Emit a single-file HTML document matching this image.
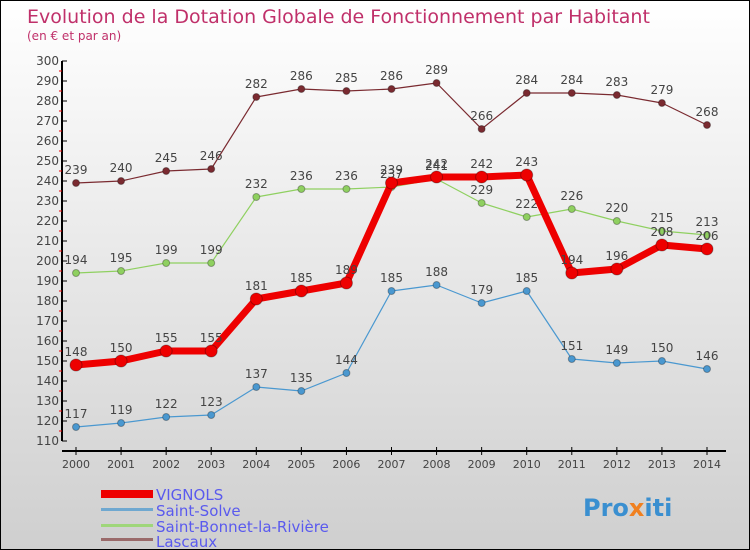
<!DOCTYPE html>
<html><head><meta charset="utf-8"><style>
body{margin:0}
#wrap{position:relative;width:748px;height:548px;border:1px solid #000;background:linear-gradient(#ffffff,#cfcfcf);font-family:"DejaVu Sans","Liberation Sans",sans-serif;overflow:hidden}
svg text{font-family:"DejaVu Sans","Liberation Sans",sans-serif}
</style></head><body>
<div id="wrap">
<svg id="chart" width="748" height="548">
<text x="26" y="22" font-size="19" fill="#c0306a">Evolution de la Dotation Globale de Fonctionnement par Habitant</text>
<text x="26" y="39" font-size="12" fill="#c0306a">(en € et par an)</text>
<g id="axes"></g><g id="series"></g>
<g>
<rect x="100" y="489" width="52" height="8" fill="#e00"/>
<text x="155" y="499" font-size="15" fill="#5a5aee">VIGNOLS</text>
<rect x="100" y="507" width="52" height="3" fill="#6fa8d0"/>
<text x="155" y="515" font-size="15" fill="#5a5aee">Saint-Solve</text>
<rect x="100" y="523" width="52" height="3" fill="#9fd67a"/>
<text x="155" y="531" font-size="15" fill="#5a5aee">Saint-Bonnet-la-Rivière</text>
<rect x="100" y="537" width="52" height="3" fill="#9a6a6a"/>
<text x="155" y="546" font-size="15" fill="#5a5aee">Lascaux</text>
</g>
<text x="582" y="515" font-size="24" font-weight="bold" fill="#3a8fd0">Pro<tspan fill="#f08020">x</tspan>iti</text>
</svg>
</div>
<script>
const years=[2000,2001,2002,2003,2004,2005,2006,2007,2008,2009,2010,2011,2012,2013,2014];
const yTicks=[110,120,130,140,150,160,170,180,190,200,210,220,230,240,250,260,270,280,290,300];
const vignols=[148,150,155,155,181,185,189,239,242,242,243,194,196,208,206];
const saintSolve=[117,119,122,123,137,135,144,185,188,179,185,151,149,150,146];
const saintBonnet=[194,195,199,199,232,236,236,237,241,229,222,226,220,215,213];
const lascaux=[239,240,245,246,282,286,285,286,289,266,284,284,283,279,268];
const NS="http://www.w3.org/2000/svg";
const xs=i=>75+i*(706-75)/14;
const ys=v=>60+(300-v)*2;
function mk(t,a,p){const e=document.createElementNS(NS,t);for(const k in a)e.setAttribute(k,a[k]);p.appendChild(e);return e;}
const ax=document.getElementById('axes');
const yl=mk('line',{x1:61,y1:60,x2:61,y2:440,stroke:'#000','stroke-width':2},ax);


const xl=mk('line',{x1:61,y1:450,x2:725,y2:450,stroke:'#000','stroke-width':2},ax);


yTicks.forEach(v=>{
 mk('line',{x1:61,y1:ys(v),x2:66,y2:ys(v),stroke:'#000'},ax);
 if(v<300)mk('line',{x1:58,y1:ys(v+5),x2:61,y2:ys(v+5),stroke:'#e00'},ax);
 const t=mk('text',{x:58,y:ys(v)+4,'font-size':12,'text-anchor':'end',fill:'#444'},ax);
 t.textContent=v;
 
 
});
years.forEach((y,i)=>{
 mk('line',{x1:xs(i),y1:446,x2:xs(i),y2:454,stroke:'#000'},ax);
 const t=mk('text',{x:xs(i),y:467,'font-size':11,'text-anchor':'middle',fill:'#444'},ax);
 t.textContent=y;
 
 
});
const sg=document.getElementById('series');
function series(data,color,w,r,name,labels){
 const g=mk('g',{},sg);
 
 
 const pl=mk('polyline',{points:data.map((v,i)=>xs(i)+','+ys(v)).join(' '),fill:'none',stroke:color,'stroke-width':w,'stroke-linejoin':'round'},g);
 
 
 data.forEach((v,i)=>{
  const c=mk('circle',{cx:xs(i),cy:ys(v),r:r,fill:color,stroke:'rgba(0,0,0,0.3)'},g);
  
  
  if(labels){const t=mk('text',{x:xs(i),y:ys(v)-9,'font-size':12,'text-anchor':'middle',fill:'#444'},g);
   t.textContent=v;
   
   }
 });
}
series(lascaux,'#7a2a30',1.2,3.5,'lascaux',true);
series(saintBonnet,'#8fd060',1.2,3.5,'saint-bonnet',true);
series(saintSolve,'#4a98d0',1.2,3.5,'saint-solve',true);
series(vignols,'#ee0000',7,6,'vignols',true);
</script>
</body></html>
